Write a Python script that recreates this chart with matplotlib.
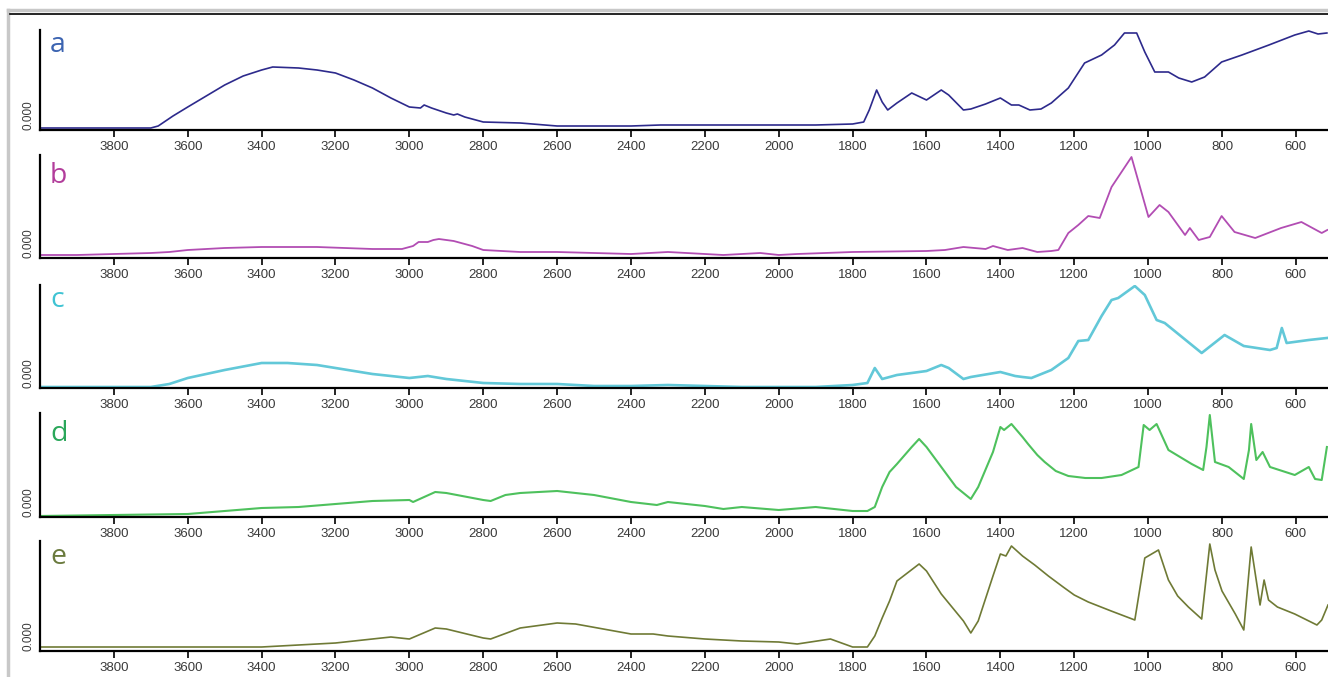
import matplotlib

matplotlib.use("Agg")
import matplotlib.pyplot as plt
from matplotlib.lines import Line2D

# %%
# Spectra (wavenumber in cm-1, height in arbitrary units)
# -----------------------------------------------------------------------------

a_wn = [4000, 3900, 3800, 3700, 3680, 3640, 3600, 3550, 3500, 3450,
        3400, 3370, 3300, 3250, 3200, 3150, 3100, 3050, 3000, 2970,
        2960, 2940, 2900, 2880, 2870, 2850, 2800, 2700, 2600, 2500,
        2400, 2320, 2300, 2200, 2100, 2000, 1900, 1800, 1770, 1755,
        1735, 1720, 1705, 1680, 1640, 1600, 1560, 1540, 1500, 1480,
        1440, 1400, 1370, 1350, 1320, 1290, 1262, 1216, 1172, 1126,
        1091, 1064, 1031, 1009, 982, 945, 917, 882, 847, 801,
        746, 673, 603, 565, 540, 516]
a_h = [2, 2, 2, 2, 4, 14, 23, 34, 45, 54,
       60, 63, 62, 60, 57, 50, 42, 32, 23, 22,
       25, 22, 17, 15, 16, 13, 8, 7, 4, 4,
       4, 5, 5, 5, 5, 5, 5, 6, 8, 20,
       40, 28, 20, 27, 37, 30, 40, 35, 20, 21,
       26, 32, 25, 25, 20, 21, 27, 42, 67, 75,
       85, 97, 97, 78, 58, 58, 52, 48, 53, 68,
       75, 85, 95, 99, 96, 97]

b_wn = [4000, 3900, 3800, 3700, 3650, 3600, 3500, 3400, 3250, 3100,
        3020, 2990, 2975, 2950, 2935, 2920, 2880, 2830, 2800, 2700,
        2600, 2500, 2400, 2300, 2200, 2150, 2100, 2050, 2000, 1950,
        1800, 1600, 1550, 1500, 1440, 1420, 1380, 1340, 1300, 1262,
        1243, 1216, 1189, 1162, 1131, 1099, 1045, 999, 969, 945,
        900, 887, 863, 833, 801, 766, 710, 640, 585, 530,
        515]
b_h = [3, 3, 4, 5, 6, 8, 10, 11, 11, 9,
       9, 12, 16, 16, 18, 19, 17, 12, 8, 6,
       6, 5, 4, 6, 4, 3, 4, 5, 3, 4,
       6, 7, 8, 11, 9, 12, 8, 10, 6, 7,
       8, 25, 33, 42, 40, 71, 101, 41, 53, 46,
       23, 30, 18, 21, 42, 26, 20, 30, 36, 25,
       28]

c_wn = [4000, 3800, 3700, 3650, 3600, 3500, 3400, 3330, 3250, 3200,
        3100, 3000, 2950, 2900, 2800, 2700, 2600, 2500, 2400, 2300,
        2200, 2100, 2000, 1900, 1800, 1760, 1740, 1720, 1680, 1600,
        1560, 1540, 1500, 1480, 1400, 1360, 1340, 1316, 1262, 1216,
        1189, 1162, 1126, 1099, 1081, 1036, 1009, 977, 955, 855,
        793, 741, 670, 652, 638, 625, 565, 516]
c_h = [1, 1, 1, 4, 10, 18, 25, 25, 23, 20,
       14, 10, 12, 9, 5, 4, 4, 2, 2, 3,
       2, 1, 1, 1, 3, 5, 20, 9, 13, 17,
       23, 20, 9, 11, 16, 12, 11, 10, 18, 30,
       47, 48, 72, 88, 90, 102, 93, 68, 65, 35,
       53, 42, 38, 40, 60, 45, 48, 50]

d_wn = [4000, 3800, 3600, 3500, 3400, 3300, 3200, 3100, 3000, 2990,
        2930, 2900, 2800, 2780, 2740, 2700, 2600, 2500, 2400, 2330,
        2300, 2200, 2150, 2100, 2000, 1900, 1800, 1760, 1740, 1720,
        1700, 1680, 1640, 1620, 1600, 1560, 1520, 1480, 1460, 1420,
        1400, 1390, 1370, 1340, 1325, 1300, 1280, 1250, 1216, 1170,
        1126, 1072, 1026, 1012, 996, 977, 945, 882, 851, 842,
        833, 819, 782, 741, 727, 721, 707, 690, 670, 603,
        565, 548, 530, 516]
d_h = [1, 2, 3, 6, 9, 10, 13, 16, 17, 15,
       25, 24, 17, 16, 22, 24, 26, 22, 15, 12,
       15, 11, 8, 10, 7, 10, 6, 6, 10, 30,
       45, 53, 70, 78, 70, 50, 30, 18, 30, 65,
       90, 87, 93, 80, 73, 62, 55, 46, 41, 39,
       39, 42, 50, 92, 87, 93, 67, 53, 47, 70,
       102, 55, 50, 38, 67, 93, 57, 65, 50, 42,
       50, 38, 37, 70]

e_wn = [4000, 3700, 3400, 3300, 3200, 3100, 3050, 3000, 2930, 2900,
        2800, 2780, 2700, 2600, 2550, 2400, 2340, 2300, 2200, 2100,
        2000, 1950, 1860, 1800, 1760, 1740, 1720, 1700, 1680, 1620,
        1600, 1560, 1500, 1480, 1460, 1420, 1400, 1385, 1370, 1340,
        1307, 1270, 1230, 1200, 1162, 1100, 1036, 1009, 972, 945,
        920, 891, 855, 833, 819, 800, 764, 741, 721, 697,
        686, 674, 650, 603, 543, 530, 513]
e_h = [4, 4, 4, 6, 8, 12, 14, 12, 23, 22,
       13, 12, 23, 28, 27, 17, 17, 15, 12, 10,
       9, 7, 12, 4, 4, 15, 33, 50, 70, 87,
       80, 57, 30, 18, 30, 75, 97, 95, 105, 95,
       86, 75, 64, 56, 49, 40, 31, 93, 101, 71,
       55, 44, 32, 107, 81, 60, 37, 21, 104, 46,
       71, 51, 44, 37, 26, 31, 46]

panel_labels = ["a", "b", "c", "d", "e"]
x_ticks = [3800, 3600, 3400, 3200, 3000, 2800, 2600, 2400, 2200, 2000,
           1800, 1600, 1400, 1200, 1000, 800, 600]

# %%
# Layout (pixel geometry of the reference)
# ----------------------------------------

W, H = 1328, 677
# (top, bottom) of each panel in pixels
panel_px = [(30, 130), (155, 258), (285, 388), (413, 517), (541, 651)]
label_baseline_px = [52, 183, 307, 441, 564]
LEFT, RIGHT = 40, 1328

line_colors = ["#2d2a8c", "#b24db3", "#62c8d8", "#4ec15d", "#6f7a35"]
label_colors = ["#3c64b1", "#b23d9b", "#3fc3d3", "#2aa75a", "#6a7a3d"]
line_widths = [1.2, 1.3, 1.9, 1.5, 1.2]

spectra = [(a_wn, a_h), (b_wn, b_h), (c_wn, c_h), (d_wn, d_h), (e_wn, e_h)]

fig = plt.figure(figsize=(W / 100, H / 100), dpi=100)
fig.patch.set_facecolor("white")

for i, ((wn, h), (top, bot)) in enumerate(zip(spectra, panel_px)):
    ax = fig.add_axes(
        [LEFT / W, 1 - bot / H, (RIGHT - LEFT) / W, (bot - top) / H]
    )
    ax.plot(wn, h, color=line_colors[i], lw=line_widths[i], solid_joinstyle="round")
    ax.set_xlim(4000, 513)
    ax.set_ylim(0, bot - top)

    for side in ("top", "right"):
        ax.spines[side].set_visible(False)
    for side in ("left", "bottom"):
        ax.spines[side].set_linewidth(1.6)
        ax.spines[side].set_color("black")

    ax.set_xticks(x_ticks)
    ax.tick_params(
        axis="x", direction="out", length=5, width=1.2, pad=3,
        labelsize=9.5, labelcolor="#3a3a3a",
    )
    ax.set_yticks([0])
    ax.set_yticklabels(["0.000"], rotation=90, va="bottom")
    ax.tick_params(axis="y", length=0, pad=4, labelsize=8.5, labelcolor="#3a3a3a")
    for lbl in ax.get_xticklabels() + ax.get_yticklabels():
        lbl.set_family(["Liberation Sans", "DejaVu Sans"])

    fig.text(
        50 / W, 1 - label_baseline_px[i] / H, panel_labels[i],
        color=label_colors[i], fontsize=20.5, va="baseline", ha="left",
        family=["Open Sans", "DejaVu Sans"],
    )

# grey frame and black rule of the original screenshot
fig.add_artist(Line2D([8 / W, 1], [1 - 10 / H, 1 - 10 / H], color="#c8c8c8", lw=2.5))
fig.add_artist(Line2D([8 / W, 8 / W], [0, 1 - 10 / H], color="#c8c8c8", lw=2.5))
fig.add_artist(Line2D([10 / W, 1], [1 - 14 / H, 1 - 14 / H], color="black", lw=1.2))

fig.savefig("out.png", dpi=100)
